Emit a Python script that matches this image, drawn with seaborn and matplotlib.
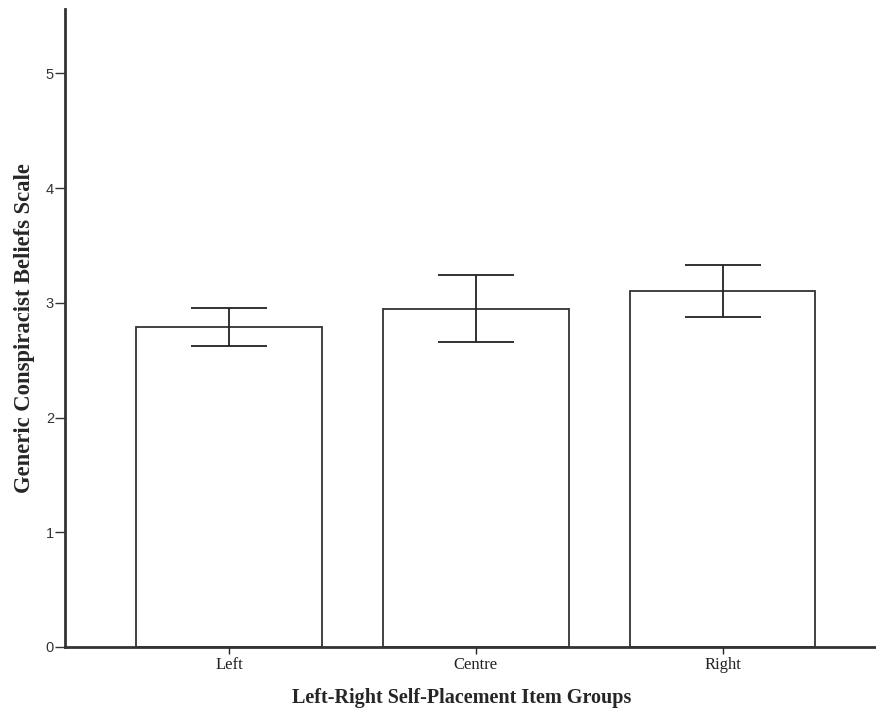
import numpy as np
import pandas as pd
import matplotlib
matplotlib.use("Agg")
import matplotlib.pyplot as plt
import seaborn as sns

groups = ["Left", "Centre", "Right"]
means = [2.786, 2.948, 3.100]
err_lo = [2.622, 2.657, 2.872]
err_hi = [2.950, 3.240, 3.328]

df = pd.DataFrame({"group": groups, "mean": means})

sns.set_style("white")
plt.rcParams["font.family"] = ["Liberation Serif", "DejaVu Serif"]

fig = plt.figure(figsize=(8.76, 7.11), dpi=100)
ax = fig.add_axes([65 / 876, 64 / 711, 811 / 876, 638 / 711])

sns.barplot(data=df, x="group", y="mean", order=groups, color="white",
            edgecolor="#333333", linewidth=1.3, width=0.75, errorbar=None, ax=ax)

# error bars
pos = np.arange(len(groups))
m = np.array(means)
yerr = [m - np.array(err_lo), np.array(err_hi) - m]
ax.errorbar(pos, m, yerr=yerr, fmt="none", ecolor="#222222",
            elinewidth=1.3, capsize=27.5, capthick=1.3)

ax.set_xlim(-0.664, 2.62)
ax.set_ylim(0, 5.56)
ax.set_yticks(range(6))
ax.set_yticklabels([str(i) for i in range(6)], family="Liberation Sans",
                   fontsize=10.5, color="#333333")
ax.tick_params(axis="x", labelsize=12, length=5, width=1, colors="#222222", pad=2)
ax.tick_params(axis="y", length=7, width=1, colors="#333333", pad=1)
ax.tick_params(bottom=True, left=True)

sns.despine(ax=ax)
for s in ["left", "bottom"]:
    ax.spines[s].set_linewidth(2)
    ax.spines[s].set_color("#333333")

ax.set_xlabel("Left-Right Self-Placement Item Groups", fontsize=14.5,
              fontweight="bold")
ax.xaxis.set_label_coords(0.4895, -0.065)
ax.set_ylabel("Generic Conspiracist Beliefs Scale", fontsize=16.3,
              fontweight="bold", labelpad=8)

fig.savefig("out.png", dpi=100)
